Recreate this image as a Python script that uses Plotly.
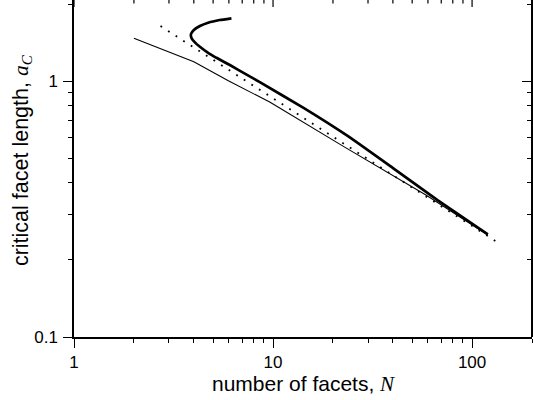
import plotly.graph_objects as go

# thin solid curve
thin_N = [2, 4, 5.93, 9.62, 22.9, 58.9, 120]
thin_a = [1.47, 1.19, 1.005, 0.828, 0.552, 0.358, 0.25]

# thick solid curve (ordered along the curve, folds back near N~4)
thick_N = [6.18, 5.40, 4.72, 4.29, 4.00, 3.87, 3.90, 4.05, 4.29, 4.72, 5.20,
           6.13, 7.29, 8.58, 14.3, 23.8, 39.9, 67.3, 120]
thick_a = [1.759, 1.732, 1.690, 1.641, 1.583, 1.527, 1.469, 1.417, 1.362, 1.290,
           1.233, 1.150, 1.065, 0.990, 0.784, 0.609, 0.458, 0.342, 0.252]

# dotted asymptote
dot_N = [2.72, 137]
dot_a = [1.64, 0.232]

x_major = [1, 10, 100]
x_major_text = ["1", "10", "100"]
x_minor = [2, 3, 4, 5, 6, 7, 8, 9, 20, 30, 40, 50, 60, 70, 80, 90, 200]
y_major = [0.1, 1]
y_major_text = ["0.1", "1"]
y_minor = [0.2, 0.3, 0.4, 0.5, 0.6, 0.7, 0.8, 0.9, 2]

FONT = "Liberation Sans, Arial, sans-serif"
XR = [0, 2.30103]
YR = [-1, 0.3168]

fig = go.Figure()
fig.add_trace(go.Scatter(x=thin_N, y=thin_a, mode="lines",
                         line=dict(color="black", width=1.1), showlegend=False))
fig.add_trace(go.Scatter(x=thick_N, y=thick_a, mode="lines",
                         line=dict(color="black", width=2.7, shape="spline", smoothing=0.4),
                         showlegend=False))
fig.add_trace(go.Scatter(x=dot_N, y=dot_a, mode="lines",
                         line=dict(color="black", width=1.8, dash="1.8px,7.2px"),
                         showlegend=False))
# invisible trace to activate the right-hand mirror axis
fig.add_trace(go.Scatter(x=[1], y=[1], xaxis="x", yaxis="y2", mode="markers",
                         marker=dict(opacity=0), showlegend=False, hoverinfo="skip"))

common = dict(showgrid=False, zeroline=False, linecolor="black", linewidth=1.5,
              tickcolor="black", tickwidth=1.2)

# top-edge inward ticks, placed at the x tick values in data coordinates
top_ticks = []
for v in x_major + x_minor:
    length = 7 if v in x_major else 3.5
    top_ticks.append(dict(type="line", xref="x", x0=v, x1=v,
                          yref="paper", ysizemode="pixel", yanchor=1, y0=0, y1=-length,
                          line=dict(color="black", width=1.2)))

fig.update_layout(
    width=533, height=400,
    margin=dict(l=74, r=1, t=0, b=63.3),
    paper_bgcolor="white", plot_bgcolor="white",
    font=dict(family=FONT, color="black", size=17),
    xaxis=dict(type="log", range=XR, showline=True, ticks="outside", ticklen=9,
               tickvals=x_major, ticktext=x_major_text, ticklabelstandoff=0,
               minor=dict(ticks="outside", ticklen=4.5, tickvals=x_minor,
                          tickcolor="black", tickwidth=1.2),
               tickfont=dict(size=17, family=FONT), **common),
    yaxis=dict(type="log", range=YR, showline=True, ticks="outside", ticklen=9,
               tickvals=y_major, ticktext=y_major_text, ticklabelstandoff=2,
               minor=dict(ticks="outside", ticklen=4.5, tickvals=y_minor,
                          tickcolor="black", tickwidth=1.2),
               tickfont=dict(size=17, family=FONT), **common),
    yaxis2=dict(type="log", range=YR, overlaying="y", side="right", anchor="free",
                position=1, showline=True, ticks="inside", ticklen=9, tickvals=y_major,
                showticklabels=False,
                minor=dict(ticks="inside", ticklen=4.5, tickvals=y_minor,
                           tickcolor="black", tickwidth=1.2), **common),
    shapes=top_ticks,
    annotations=[
        dict(text="number of facets, <span style=\"font-family:Liberation Serif\"><i>N</i></span>",
             xref="paper", yref="paper", x=0.5, y=0, yshift=-47,
             xanchor="center", yanchor="middle", showarrow=False,
             font=dict(size=21, family=FONT)),
        dict(text="critical facet length, <span style=\"font-family:Liberation Serif\"><i>a</i><sub><i>C</i></sub></span>",
             xref="paper", yref="paper", x=0, xshift=-52, y=0.525,
             xanchor="center", yanchor="middle", textangle=-90, showarrow=False,
             font=dict(size=21.5, family=FONT)),
    ],
)

fig.write_html("out.html", config={"displayModeBar": False},
               post_script="document.body.style.margin='0';document.body.style.padding='0';")
